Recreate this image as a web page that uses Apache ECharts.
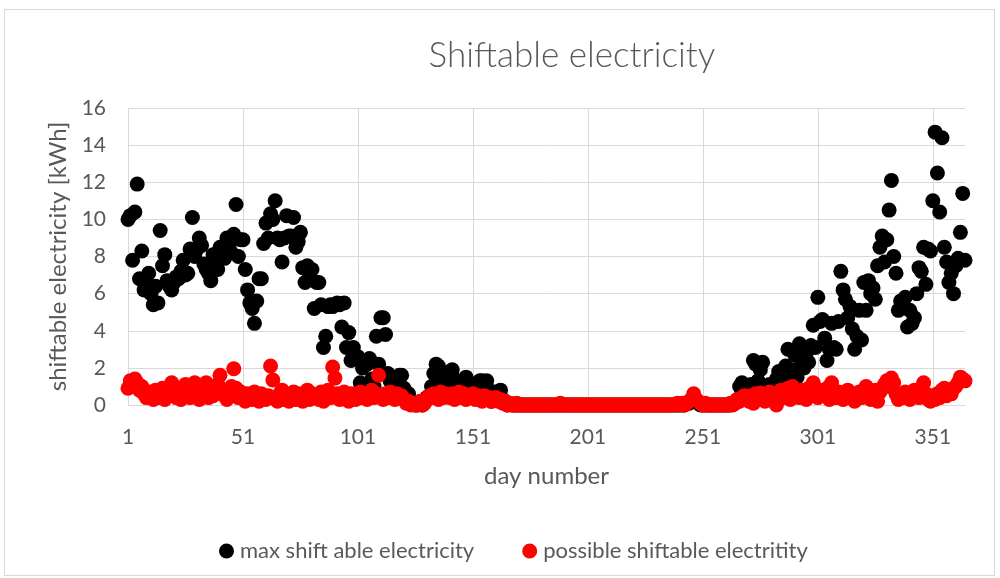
<!DOCTYPE html>
<html>
<head>
<meta charset="utf-8">
<script src="https://cdn.jsdelivr.net/npm/echarts@6/dist/echarts.min.js"></script>
<style>
  html, body { margin: 0; padding: 0; background: #ffffff; }
  #frame { position: absolute; left: 4px; top: 9px; width: 991px; height: 567px; border: 1px solid #d9d9d9; box-sizing: border-box; }
  #chart { position: absolute; left: 0; top: 0; width: 1000px; height: 578px; }
</style>
</head>
<body>
<div id="frame"></div>
<div id="chart"></div>
<script>
// Day-of-year categories (1..365)
const days = Array.from({ length: 365 }, (_, i) => i + 1);
const xTickStep = 50;

// Maximum shiftable electricity per day [kWh]
const maxShiftable = [
  // 1-10
  10.0, 10.2, 7.8, 10.4, 11.9, 6.8, 8.3, 6.2, 6.6, 7.1,
  // 11-20
  6.0, 5.4, 6.4, 5.5, 9.4, 7.5, 8.1, 6.7, 6.4, 6.2,
  // 21-30
  6.6, 6.9, 6.8, 7.2, 7.8, 7.0, 7.1, 8.4, 10.1, 8.0,
  // 31-40
  8.4, 9.0, 8.6, 7.6, 7.3, 7.1, 6.7, 8.1, 7.8, 7.3,
  // 41-50
  8.5, 8.2, 7.9, 9.0, 8.6, 8.2, 9.2, 10.8, 8.0, 8.9,
  // 51-60
  8.9, 7.3, 6.2, 5.5, 5.2, 4.4, 5.6, 6.8, 6.8, 8.7,
  // 61-70
  9.8, 9.0, 10.3, 10.0, 11.0, 9.0, 8.9, 7.7, 9.0, 10.2,
  // 71-80
  9.1, 9.1, 10.1, 8.5, 8.8, 9.3, 7.4, 6.6, 7.5, 7.0,
  // 81-90
  7.3, 5.2, 6.6, 6.6, 5.4, 3.1, 3.7, 5.3, 5.4, 5.3,
  // 91-100
  5.4, 5.5, 5.4, 4.2, 5.5, 3.1, 3.9, 2.4, 3.1, 2.6,
  // 101-110
  2.6, 1.2, 2.0, 2.3, 2.2, 2.5, 1.4, 1.0, 3.7, 2.2,
  // 111-120
  4.7, 4.7, 3.8, 1.7, 1.3, 0.9, 1.1, 1.4, 1.6, 1.6,
  // 121-130
  0.9, 0.6, 0.6, 0.2, 0.1, 0.0, 0.0, 0.1, 0.0, 0.2,
  // 131-140
  0.4, 0.5, 1.0, 1.7, 2.2, 2.1, 1.5, 1.2, 0.9, 1.3,
  // 141-150
  1.8, 1.9, 1.4, 1.2, 1.0, 0.8, 1.1, 1.5, 1.0, 0.6,
  // 151-160
  0.8, 1.1, 1.2, 1.3, 1.3, 1.2, 1.3, 0.8, 0.2, 0.4,
  // 161-170
  0.7, 0.5, 0.8, 0.3, 0.1, 0.0, 0.1, 0.0, 0.0, 0.0,
  // 171-180
  0, 0, 0, 0, 0, 0, 0, 0, 0, 0,
  // 181-190
  0, 0, 0, 0, 0, 0, 0, 0, 0, 0,
  // 191-200
  0, 0, 0, 0, 0, 0, 0, 0, 0, 0,
  // 201-210
  0, 0, 0, 0, 0, 0, 0, 0, 0, 0,
  // 211-220
  0, 0, 0, 0, 0, 0, 0, 0, 0, 0,
  // 221-230
  0, 0, 0, 0, 0, 0, 0, 0, 0, 0,
  // 231-240
  0, 0, 0, 0, 0, 0, 0, 0, 0, 0,
  // 241-250
  0, 0, 0, 0.1, 0.1, 0.2, 0.3, 0.2, 0.1, 0,
  // 251-260
  0, 0, 0, 0, 0, 0, 0, 0, 0, 0,
  // 261-270
  0, 0, 0, 0.1, 0.1, 0.3, 1.0, 1.2, 0.5, 0.7,
  // 271-280
  0.9, 1.1, 2.4, 2.2, 1.3, 1.9, 2.3, 1.0, 0.7, 1.1,
  // 281-290
  0.9, 1.0, 1.4, 1.8, 1.2, 1.6, 2.1, 3.0, 1.4, 1.9,
  // 291-300
  2.7, 1.5, 3.3, 2.4, 2.0, 2.8, 2.3, 3.2, 4.3, 3.1,
  // 301-310
  5.8, 4.5, 4.6, 3.6, 2.4, 3.0, 4.4, 3.1, 3.0, 4.5,
  // 311-320
  7.2, 6.2, 5.7, 4.7, 5.3, 4.1, 3.0, 3.7, 5.1, 3.5,
  // 321-330
  6.6, 5.1, 6.7, 6.0, 6.3, 5.7, 7.5, 8.5, 9.1, 7.7,
  // 331-340
  8.9, 10.5, 12.1, 8.0, 7.1, 5.1, 5.6, 5.3, 5.8, 4.2,
  // 341-350
  5.1, 4.4, 4.7, 6.0, 7.4, 7.2, 8.5, 6.5, 8.4, 8.3,
  // 351-360
  11.0, 14.7, 12.5, 10.4, 14.4, 8.5, 7.7, 6.6, 7.1, 6.0,
  // 361-365
  7.5, 7.9, 9.3, 11.4, 7.8
];

// Possible shiftable electricity per day [kWh]
const possibleShiftable = [
  // 1-10
  0.9, 1.3, 1.1, 1.4, 1.2, 0.8, 1.0, 0.6, 0.4, 0.7,
  // 11-20
  0.5, 0.3, 0.8, 0.4, 0.6, 0.9, 0.3, 0.5, 0.7, 1.2,
  // 21-30
  0.6, 0.4, 0.8, 0.3, 0.5, 1.1, 0.7, 0.4, 0.9, 1.2,
  // 31-40
  0.6, 0.3, 0.5, 0.8, 1.2, 0.4, 0.7, 0.5, 0.9, 1.1,
  // 41-50
  1.6, 0.8, 0.5, 0.3, 0.6, 1.0, 1.95, 0.9, 0.4, 0.7,
  // 51-60
  0.5, 0.2, 0.6, 0.4, 0.3, 0.7, 0.5, 0.2, 0.6, 0.4,
  // 61-70
  0.3, 0.5, 2.1, 1.35, 0.4, 0.2, 0.6, 0.8, 0.3, 0.5,
  // 71-80
  0.2, 0.4, 0.7, 0.3, 0.6, 0.4, 0.2, 0.5, 0.8, 0.3,
  // 81-90
  0.6, 0.4, 0.5, 0.3, 0.7, 0.2, 0.5, 0.8, 0.4, 2.05,
  // 91-100
  1.45, 0.6, 0.3, 0.5, 0.7, 0.4, 0.2, 0.6, 0.5, 0.3,
  // 101-110
  0.5, 0.7, 0.4, 0.6, 0.3, 0.5, 0.8, 0.4, 0.6, 1.6,
  // 111-120
  0.5, 0.3, 0.6, 0.4, 0.7, 0.5, 0.3, 0.6, 0.4, 0.5,
  // 121-130
  0.3, 0.1, 0.2, 0.0, 0.1, 0.0, 0.1, 0.2, 0.0, 0.1,
  // 131-140
  0.3, 0.5, 0.4, 0.6, 0.5, 0.3, 0.7, 0.4, 0.6, 0.5,
  // 141-150
  0.4, 0.6, 0.3, 0.5, 0.7, 0.4, 0.6, 0.3, 0.5, 0.4,
  // 151-160
  0.6, 0.3, 0.5, 0.4, 0.2, 0.5, 0.3, 0.4, 0.2, 0.3,
  // 161-170
  0.4, 0.2, 0.3, 0.1, 0.2, 0.0, 0.1, 0.0, 0.0, 0.1,
  // 171-180
  0, 0, 0, 0, 0, 0, 0, 0, 0, 0,
  // 181-190
  0, 0, 0, 0, 0, 0, 0, 0, 0.1, 0,
  // 191-200
  0, 0, 0, 0, 0, 0, 0, 0, 0, 0,
  // 201-210
  0, 0, 0, 0, 0, 0, 0, 0, 0, 0,
  // 211-220
  0, 0, 0, 0, 0, 0, 0, 0, 0, 0,
  // 221-230
  0, 0, 0, 0, 0, 0, 0, 0, 0, 0,
  // 231-240
  0, 0, 0, 0, 0, 0, 0, 0, 0, 0.1,
  // 241-250
  0, 0.1, 0, 0.1, 0.2, 0.3, 0.6, 0.3, 0.2, 0.1,
  // 251-260
  0, 0.1, 0, 0, 0, 0, 0, 0, 0, 0,
  // 261-270
  0, 0, 0.1, 0, 0.1, 0.3, 0.2, 0.4, 0.5, 0.3,
  // 271-280
  0.2, 0.5, 0.1, 0.6, 0.3, 0.65, 0.4, 0.2, 0.5, 0.7,
  // 281-290
  0.3, 0.6, 0.0, 0.5, 0.8, 0.4, 0.6, 0.9, 0.3, 1.0,
  // 291-300
  0.5, 0.7, 0.4, 0.8, 0.6, 0.3, 0.9, 0.5, 1.2, 0.7,
  // 301-310
  0.4, 0.8, 0.6, 0.5, 0.9, 0.3, 1.2, 0.6, 0.4, 0.7,
  // 311-320
  0.5, 0.3, 0.6, 0.8, 0.4, 0.5, 0.2, 0.6, 0.7, 0.4,
  // 321-330
  0.8, 1.0, 0.5, 0.3, 0.6, 0.8, 0.2, 0.7, 0.9, 1.1,
  // 331-340
  1.3, 1.0, 1.45, 1.2, 0.6, 0.3, 0.5, 0.4, 0.7, 0.5,
  // 341-350
  0.3, 0.6, 0.8, 0.5, 0.4, 0.9, 1.2, 0.6, 0.3, 0.2,
  // 351-360
  0.5, 0.3, 0.6, 0.4, 0.8, 0.9, 0.5, 0.7, 0.6, 0.9,
  // 361-365
  1.0, 1.2, 1.5, 1.4, 1.3
];

const seriesNames = ['max shift able electricity', 'possible shiftable electritity'];
const seriesColors = ['#000000', '#ff0000'];

const FONT = 'Lato, "Open Sans", sans-serif';
const TEXT = '#595959';
const GRID = '#d9d9d9';

const chart = echarts.init(document.getElementById('chart'), null, { renderer: 'canvas' });

chart.setOption({
  backgroundColor: 'transparent',
  animation: false,
  textStyle: { fontFamily: FONT, color: TEXT },
  graphic: [{
    type: 'text',
    x: 572, y: 56,
    style: {
      text: 'Shiftable electricity',
      font: '300 35px ' + FONT,
      fill: TEXT,
      textAlign: 'center',
      textVerticalAlign: 'middle'
    }
  }],
  grid: { left: 128, right: 35, top: 108, bottom: 173, containLabel: false },
  legend: {
    left: 214, top: 535,
    itemWidth: 15, itemHeight: 15, itemGap: 48,
    icon: 'circle',
    textStyle: { fontFamily: FONT, fontSize: 22, color: TEXT, padding: [0, 0, 0, 1] },
    data: seriesNames
  },
  xAxis: {
    type: 'category',
    data: days,
    boundaryGap: false,
    name: 'day number',
    nameLocation: 'middle',
    nameGap: 59,
    nameTextStyle: { fontFamily: FONT, fontSize: 24, color: TEXT },
    axisLine: { show: true, lineStyle: { color: GRID, width: 1 } },
    axisTick: { show: false },
    axisLabel: { interval: xTickStep - 1, margin: 22, fontFamily: FONT, fontSize: 21, color: TEXT },
    splitLine: { show: true, interval: xTickStep - 1, lineStyle: { color: GRID, width: 1 } }
  },
  yAxis: {
    type: 'value',
    min: 0, max: 16, interval: 2,
    name: 'shiftable electricity [kWh]',
    nameLocation: 'middle',
    nameGap: 55,
    nameRotate: 90,
    nameTextStyle: { fontFamily: FONT, fontSize: 24, color: TEXT },
    axisLine: { show: false },
    axisTick: { show: false },
    axisLabel: { margin: 22, fontFamily: FONT, fontSize: 21, color: TEXT },
    splitLine: { show: true, lineStyle: { color: GRID, width: 1 } }
  },
  series: [
    {
      name: seriesNames[0],
      type: 'scatter',
      data: maxShiftable,
      symbol: 'circle',
      symbolSize: 15,
      itemStyle: { color: seriesColors[0], opacity: 1 },
      z: 2
    },
    {
      name: seriesNames[1],
      type: 'scatter',
      data: possibleShiftable,
      symbol: 'circle',
      symbolSize: 15,
      itemStyle: { color: seriesColors[1], opacity: 1 },
      z: 3
    }
  ]
});
</script>
</body>
</html>
